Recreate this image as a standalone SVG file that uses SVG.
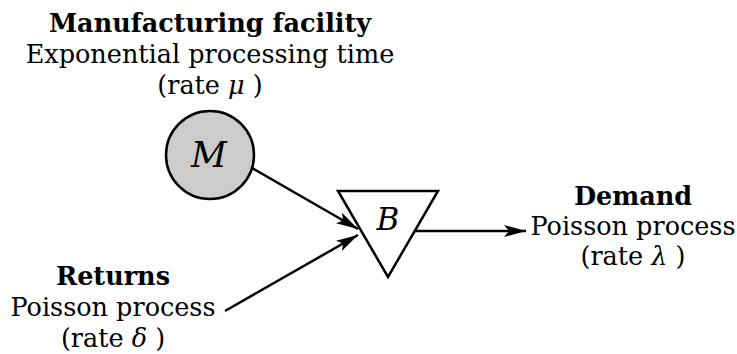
<svg xmlns="http://www.w3.org/2000/svg" width="737" height="354" viewBox="0 0 737 354">
<style>
text{font-family:"DejaVu Serif",serif;font-size:25.5px;fill:#000;text-anchor:middle}
.b{font-weight:bold}
.i{font-style:italic}
.sym{font-style:italic}
.edge{stroke:#000;stroke-width:2.5;fill:none;marker-end:url(#arr)}
</style>
<defs>
<marker id="arr" markerUnits="userSpaceOnUse" markerWidth="24" markerHeight="14" refX="22" refY="7" orient="auto" viewBox="0 0 24 14">
<path d="M0,1 L22,7 L0,13 L5,7 Z" fill="#000"/>
</marker>
</defs>
<g id="manufacturing">
<circle cx="210" cy="155" r="44" fill="#cccccc" stroke="#000" stroke-width="2.5"/>
<text class="sym" x="209" y="167" style="font-size:35px">M</text>
<text class="b" x="210" y="32">Manufacturing facility</text>
<text x="210" y="63">Exponential processing time</text>
<text x="210" y="94">(rate <tspan class="i">μ</tspan> )</text>
</g>
<g id="buffer">
<polygon points="338,191 438,191 388,277" fill="#fff" stroke="#000" stroke-width="2.5" stroke-linejoin="miter"/>
<text class="sym" x="388" y="230" style="font-size:31px">B</text>
</g>
<g id="returns">
<text class="b" x="113" y="285">Returns</text>
<text x="113" y="316">Poisson process</text>
<text x="113" y="347">(rate <tspan class="i">δ</tspan> )</text>
</g>
<g id="demand">
<text class="b" x="633" y="205">Demand</text>
<text x="633" y="235">Poisson process</text>
<text x="633" y="265">(rate <tspan class="i">λ</tspan> )</text>
</g>
<g id="connectors">
<line class="edge" x1="252" y1="168" x2="358" y2="229"/>
<line class="edge" x1="225" y1="311" x2="358" y2="235"/>
<line class="edge" x1="415" y1="231" x2="526" y2="231"/>
</g>
</svg>
